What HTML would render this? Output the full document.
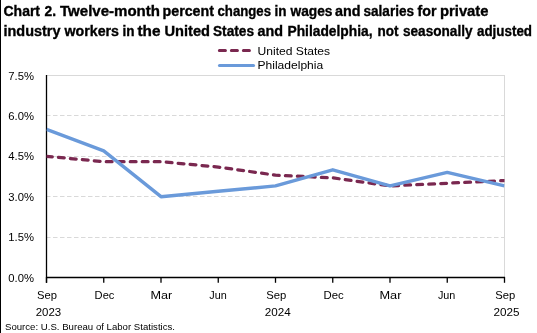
<!DOCTYPE html>
<html><head><meta charset="utf-8"><style>
html,body{margin:0;padding:0;background:#fff;}
svg{display:block;will-change:transform;}
text{font-family:"Liberation Sans",sans-serif;fill:#000;}
</style></head><body>
<svg width="537" height="333" viewBox="0 0 537 333">
<rect x="0" y="0" width="537" height="333" fill="#fff"/>
<rect x="0" y="0" width="1" height="333" fill="#000"/>
<g font-weight="bold" font-size="14.5" stroke="#000" stroke-width="0.35">
<text x="3.50" y="15.9" textLength="36.50" lengthAdjust="spacingAndGlyphs">Chart</text>
<text x="44.50" y="15.9" textLength="11.50" lengthAdjust="spacingAndGlyphs">2.</text>
<text x="60.00" y="15.9" textLength="100.00" lengthAdjust="spacingAndGlyphs">Twelve-month</text>
<text x="162.50" y="15.9" textLength="51.50" lengthAdjust="spacingAndGlyphs">percent</text>
<text x="217.50" y="15.9" textLength="53.50" lengthAdjust="spacingAndGlyphs">changes</text>
<text x="274.50" y="15.9" textLength="12.00" lengthAdjust="spacingAndGlyphs">in</text>
<text x="290.50" y="15.9" textLength="42.00" lengthAdjust="spacingAndGlyphs">wages</text>
<text x="335.00" y="15.9" textLength="25.50" lengthAdjust="spacingAndGlyphs">and</text>
<text x="363.50" y="15.9" textLength="50.50" lengthAdjust="spacingAndGlyphs">salaries</text>
<text x="417.50" y="15.9" textLength="19.00" lengthAdjust="spacingAndGlyphs">for</text>
<text x="440.00" y="15.9" textLength="48.50" lengthAdjust="spacingAndGlyphs">private</text>
<text x="3.50" y="35.8" textLength="57.00" lengthAdjust="spacingAndGlyphs">industry</text>
<text x="64.50" y="35.8" textLength="54.50" lengthAdjust="spacingAndGlyphs">workers</text>
<text x="122.50" y="35.8" textLength="12.00" lengthAdjust="spacingAndGlyphs">in</text>
<text x="137.50" y="35.8" textLength="23.00" lengthAdjust="spacingAndGlyphs">the</text>
<text x="164.50" y="35.8" textLength="45.50" lengthAdjust="spacingAndGlyphs">United</text>
<text x="213.00" y="35.8" textLength="41.00" lengthAdjust="spacingAndGlyphs">States</text>
<text x="257.50" y="35.8" textLength="25.50" lengthAdjust="spacingAndGlyphs">and</text>
<text x="287.50" y="35.8" textLength="85.00" lengthAdjust="spacingAndGlyphs">Philadelphia,</text>
<text x="377.50" y="35.8" textLength="21.00" lengthAdjust="spacingAndGlyphs">not</text>
<text x="403.00" y="35.8" textLength="69.50" lengthAdjust="spacingAndGlyphs">seasonally</text>
<text x="477.00" y="35.8" textLength="55.00" lengthAdjust="spacingAndGlyphs">adjusted</text>

</g>
<line x1="46" y1="75.5" x2="504" y2="75.5" stroke="#d9d9d9" stroke-width="1"/>
<line x1="504.5" y1="75" x2="504.5" y2="277" stroke="#d9d9d9" stroke-width="1"/>
<line x1="46" y1="115.5" x2="504" y2="115.5" stroke="#d9d9d9" stroke-width="1.1" stroke-dasharray="4.5,2.5"/>
<line x1="46" y1="156.5" x2="504" y2="156.5" stroke="#d9d9d9" stroke-width="1.1" stroke-dasharray="4.5,2.5"/>
<line x1="46" y1="196.5" x2="504" y2="196.5" stroke="#d9d9d9" stroke-width="1.1" stroke-dasharray="4.5,2.5"/>
<line x1="46" y1="237.5" x2="504" y2="237.5" stroke="#d9d9d9" stroke-width="1.1" stroke-dasharray="4.5,2.5"/>

<line x1="46.5" y1="75" x2="46.5" y2="282.8" stroke="#000" stroke-width="1.3"/>
<line x1="46" y1="277.5" x2="505" y2="277.5" stroke="#000" stroke-width="1.3"/>
<line x1="46.50" y1="277" x2="46.50" y2="282.8" stroke="#000" stroke-width="1.3"/>
<line x1="103.75" y1="277" x2="103.75" y2="282.8" stroke="#000" stroke-width="1.3"/>
<line x1="161.00" y1="277" x2="161.00" y2="282.8" stroke="#000" stroke-width="1.3"/>
<line x1="218.25" y1="277" x2="218.25" y2="282.8" stroke="#000" stroke-width="1.3"/>
<line x1="275.50" y1="277" x2="275.50" y2="282.8" stroke="#000" stroke-width="1.3"/>
<line x1="332.75" y1="277" x2="332.75" y2="282.8" stroke="#000" stroke-width="1.3"/>
<line x1="390.00" y1="277" x2="390.00" y2="282.8" stroke="#000" stroke-width="1.3"/>
<line x1="447.25" y1="277" x2="447.25" y2="282.8" stroke="#000" stroke-width="1.3"/>
<line x1="504.50" y1="277" x2="504.50" y2="282.8" stroke="#000" stroke-width="1.3"/>

<defs><clipPath id="pa"><rect x="46.5" y="0" width="458" height="333"/></clipPath></defs>
<g clip-path="url(#pa)">
<polyline points="46.50,156.30 103.75,161.69 161.00,161.69 218.25,167.07 275.50,175.15 332.75,177.85 390.00,185.93 447.25,183.23 504.50,180.54" fill="none" stroke="#7a2850" stroke-width="3.25" stroke-dasharray="5.8,6.2" stroke-linecap="round" stroke-linejoin="round"/>
<polyline points="46.50,129.37 103.75,150.91 161.00,196.70 218.25,191.31 275.50,185.93 332.75,169.77 390.00,185.93 447.25,172.46 504.50,185.93" fill="none" stroke="#6a9ada" stroke-width="3.4" stroke-linejoin="round"/>
</g>
<line x1="219.4" y1="50.5" x2="249.5" y2="50.5" stroke="#7a2850" stroke-width="3.1" stroke-dasharray="6,6" stroke-linecap="round"/>
<line x1="219.5" y1="65.5" x2="253.5" y2="65.5" stroke="#6a9ada" stroke-width="3.1" stroke-linecap="round"/>
<g font-size="10.9">
<text x="257.5" y="54.7" textLength="72.6" lengthAdjust="spacingAndGlyphs">United States</text>
<text x="257.5" y="69.3" textLength="65.7" lengthAdjust="spacingAndGlyphs">Philadelphia</text>
<text x="8.3" y="281.5" textLength="25.7" lengthAdjust="spacingAndGlyphs">0.0%</text>
<text x="8.3" y="241.1" textLength="25.7" lengthAdjust="spacingAndGlyphs">1.5%</text>
<text x="8.3" y="200.7" textLength="25.7" lengthAdjust="spacingAndGlyphs">3.0%</text>
<text x="8.3" y="160.3" textLength="25.7" lengthAdjust="spacingAndGlyphs">4.5%</text>
<text x="8.3" y="119.9" textLength="25.7" lengthAdjust="spacingAndGlyphs">6.0%</text>
<text x="8.3" y="79.5" textLength="25.7" lengthAdjust="spacingAndGlyphs">7.5%</text>

<text x="37.00" y="298.7" textLength="20" lengthAdjust="spacingAndGlyphs">Sep</text>
<text x="94.60" y="298.7" textLength="19.8" lengthAdjust="spacingAndGlyphs">Dec</text>
<text x="150.50" y="298.7" textLength="21.8" lengthAdjust="spacingAndGlyphs">Mar</text>
<text x="209.35" y="298.7" textLength="17.5" lengthAdjust="spacingAndGlyphs">Jun</text>
<text x="266.15" y="298.7" textLength="20.1" lengthAdjust="spacingAndGlyphs">Sep</text>
<text x="323.50" y="298.7" textLength="20.2" lengthAdjust="spacingAndGlyphs">Dec</text>
<text x="379.40" y="298.7" textLength="22" lengthAdjust="spacingAndGlyphs">Mar</text>
<text x="437.90" y="298.7" textLength="17.4" lengthAdjust="spacingAndGlyphs">Jun</text>
<text x="495.20" y="298.7" textLength="20" lengthAdjust="spacingAndGlyphs">Sep</text>
<text x="35.65" y="315.6" textLength="25.5" lengthAdjust="spacingAndGlyphs">2023</text>
<text x="264.80" y="315.6" textLength="26" lengthAdjust="spacingAndGlyphs">2024</text>
<text x="493.60" y="315.6" textLength="26" lengthAdjust="spacingAndGlyphs">2025</text>

<text x="5" y="330" font-size="9.9" textLength="170" lengthAdjust="spacingAndGlyphs">Source: U.S. Bureau of Labor Statistics.</text>
</g>
</svg>
</body></html>
